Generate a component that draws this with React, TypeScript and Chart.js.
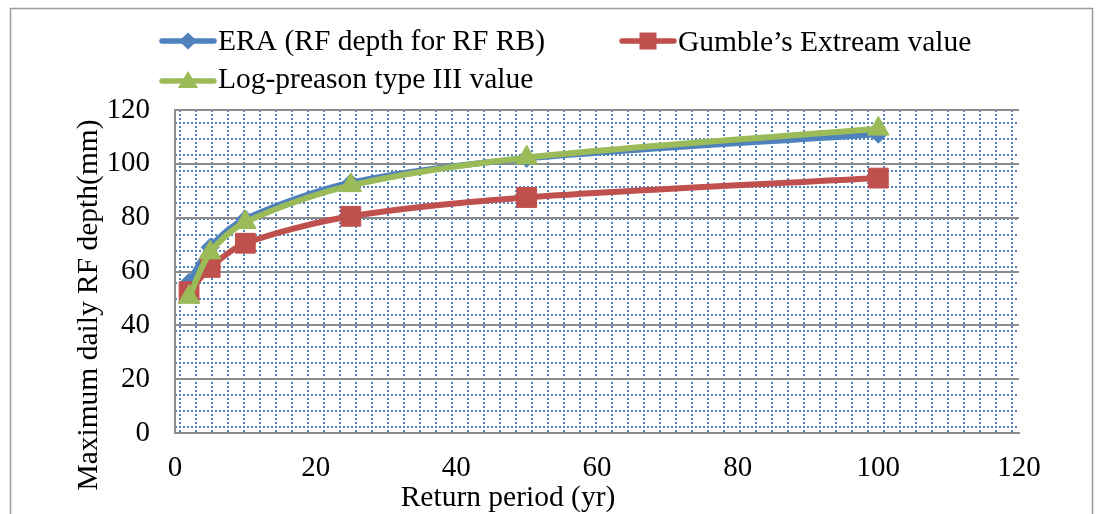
import React, { useEffect, useRef } from "react";
import { Chart, registerables } from "chart.js";

Chart.register(...registerables);

// Return periods (years) and maximum daily rainfall depth (mm) per method
const returnPeriods = [2, 5, 10, 25, 50, 100];
const eraDepth = [56, 69, 79.5, 93, 102, 111];
const gumbelDepth = [52.5, 61.5, 70.5, 80.5, 87.5, 94.7];
const logPearsonDepth = [50.5, 67, 78.3, 92, 102.3, 113];

const seriesLabels = [
  "ERA (RF depth for RF RB)",
  "Gumble\u2019s Extream value",
  "Log-preason type III value",
];
const seriesColors = ["#4f81bd", "#c0504d", "#9bbb59"];
const seriesMarkers = ["diamond", "square", "triangle"];

const xAxisTitle = "Return period (yr)";
const yAxisTitle = "Maximum daily RF depth(mm)";
const xRange = [0, 120];
const yRange = [0, 120];
const tickStep = 20;

const FONT = "'Liberation Serif', 'Times New Roman', serif";

function markerPath(ctx: CanvasRenderingContext2D, kind: string, x: number, y: number) {
  ctx.beginPath();
  if (kind === "diamond") {
    ctx.moveTo(x, y - 8.5);
    ctx.lineTo(x + 9, y);
    ctx.lineTo(x, y + 8.5);
    ctx.lineTo(x - 9, y);
  } else if (kind === "square") {
    ctx.rect(x - 8.5, y - 8.5, 17, 17);
  } else {
    ctx.moveTo(x, y - 10);
    ctx.lineTo(x + 10, y + 7);
    ctx.lineTo(x - 10, y + 7);
  }
  ctx.closePath();
}

// Dotted lattice behind the plot, outer frame, legend and axis titles
const decorPlugin = {
  id: "decor",
  beforeDraw(chart: any) {
    const { ctx, chartArea } = chart;
    const { left, right, top, bottom } = chartArea;
    ctx.save();
    ctx.fillStyle = "#ffffff";
    ctx.fillRect(0, 0, chart.width, chart.height);
    ctx.beginPath();
    ctx.rect(left, top, right - left, bottom - top);
    ctx.clip();
    ctx.strokeStyle = "#4f81bd";
    ctx.lineWidth = 2;
    ctx.setLineDash([2, 2]);
    ctx.beginPath();
    for (let x = Math.round(left + 5); x < right; x += 16) {
      ctx.moveTo(x, top);
      ctx.lineTo(x, bottom);
    }
    for (let y = Math.round(bottom - 6); y > top; y -= 16) {
      ctx.moveTo(left, y);
      ctx.lineTo(right, y);
    }
    ctx.stroke();
    ctx.restore();
  },
  afterDraw(chart: any) {
    const { ctx } = chart;
    ctx.save();
    // outer frame
    ctx.strokeStyle = "#9a9a9a";
    ctx.lineWidth = 1.5;
    ctx.strokeRect(10.5, 8.5, 1082, 530);

    // legend
    const items = [
      { x: 160, y: 41, base: 50 },
      { x: 620, y: 41, base: 50.5 },
      { x: 160, y: 81, base: 88 },
    ];
    ctx.font = `29.5px ${FONT}`;
    ctx.textBaseline = "alphabetic";
    ctx.textAlign = "left";
    items.forEach((it, i) => {
      ctx.strokeStyle = seriesColors[i];
      ctx.lineWidth = 5.5;
      ctx.lineCap = "round";
      ctx.beginPath();
      ctx.moveTo(it.x + 2, it.y);
      ctx.lineTo(it.x + 54, it.y);
      ctx.stroke();
      ctx.fillStyle = seriesColors[i];
      markerPath(ctx, seriesMarkers[i], it.x + 28, it.y);
      ctx.fill();
      ctx.fillStyle = "#000000";
      ctx.fillText(seriesLabels[i], it.x + 58, it.base);
    });

    // axis titles
    ctx.textAlign = "center";
    ctx.fillText(xAxisTitle, 508, 506);
    ctx.translate(97, 305);
    ctx.rotate(-Math.PI / 2);
    ctx.fillText(yAxisTitle, 0, 0);
    ctx.restore();
  },
};

export default function App() {
  const canvasRef = useRef<HTMLCanvasElement | null>(null);

  useEffect(() => {
    if (!canvasRef.current) return;
    const mk = (data: number[]) => returnPeriods.map((x, i) => ({ x, y: data[i] }));
    const common = {
      borderWidth: 6,
      borderCapStyle: "round" as const,
      borderJoinStyle: "round" as const,
      tension: 0.3,
      pointBorderWidth: 1,
      showLine: true,
    };
    const chart = new Chart(canvasRef.current, {
      type: "line",
      data: {
        datasets: [
          {
            ...common,
            label: seriesLabels[0],
            data: mk(eraDepth),
            borderColor: seriesColors[0],
            backgroundColor: seriesColors[0],
            pointStyle: "rectRot",
            pointRadius: 9,
            order: 3,
          },
          {
            ...common,
            label: seriesLabels[1],
            data: mk(gumbelDepth),
            borderColor: seriesColors[1],
            backgroundColor: seriesColors[1],
            pointStyle: "rect",
            pointRadius: 14,
            order: 2,
          },
          {
            ...common,
            label: seriesLabels[2],
            data: mk(logPearsonDepth),
            borderColor: seriesColors[2],
            backgroundColor: seriesColors[2],
            pointStyle: "triangle",
            pointRadius: 12.5,
            order: 1,
          },
        ],
      },
      options: {
        animation: false,
        responsive: true,
        maintainAspectRatio: false,
        layout: { padding: { top: 110, right: 79, left: 0, bottom: 0 } },
        plugins: {
          legend: { display: false },
          tooltip: { enabled: false },
        },
        scales: {
          x: {
            type: "linear",
            min: xRange[0],
            max: xRange[1],
            afterFit: (s: any) => {
              s.height = 81;
            },
            ticks: {
              stepSize: tickStep,
              padding: 18,
              color: "#000000",
              font: { family: FONT, size: 29 },
              maxRotation: 0,
            },
            grid: { display: false, drawTicks: false },
            border: { display: true, color: "#8c8c8c", width: 2 },
          },
          y: {
            type: "linear",
            min: yRange[0],
            max: yRange[1],
            afterFit: (s: any) => {
              s.width = 175;
            },
            ticks: {
              stepSize: tickStep,
              padding: 25,
              color: "#000000",
              font: { family: FONT, size: 29 },
            },
            grid: { color: "#8c8c8c", lineWidth: 2, drawTicks: false },
            border: { display: true, color: "#8c8c8c", width: 2 },
          },
        },
      },
      plugins: [decorPlugin],
    });
    return () => chart.destroy();
  }, []);

  return (
    <div style={{ position: "fixed", left: 0, top: 0, width: 1098, height: 514, background: "#fff" }}>
      <canvas ref={canvasRef} />
    </div>
  );
}
